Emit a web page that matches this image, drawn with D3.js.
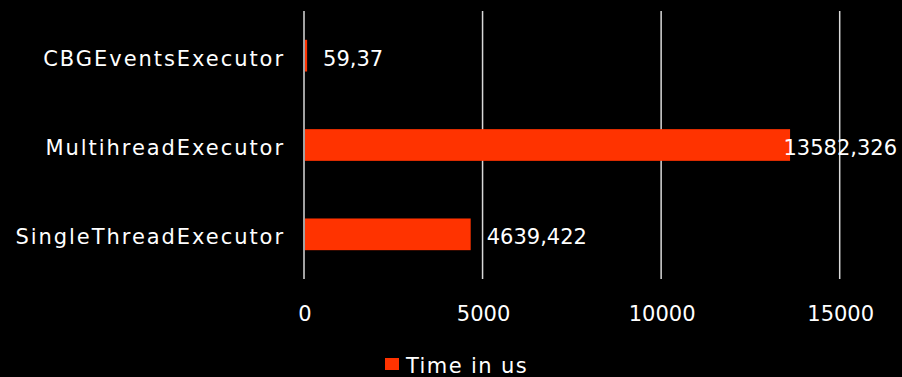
<!DOCTYPE html>
<html><head><meta charset="utf-8">
<script src="https://cdn.jsdelivr.net/npm/d3@7"></script>
<style>
html,body{margin:0;padding:0;background:#000;}
svg{display:block;}
text{font-family:"DejaVu Sans",sans-serif;fill:#fff;}
</style></head>
<body>
<svg id="c" width="902" height="377"></svg>
<script>
const categories = ["CBGEventsExecutor", "MultihreadExecutor", "SingleThreadExecutor"];
const values = [59.37, 13582.326, 4639.422];
const seriesName = "Time in us";
const xTicks = [0, 5000, 10000, 15000];

const W = 902, H = 377;
const m = {left: 304, right: 62, top: 11, bottom: 98};
const svg = d3.select("#c");
svg.append("rect").attr("width", W).attr("height", H).attr("fill", "#000");

const x = d3.scaleLinear().domain([0, 15000]).range([m.left, m.left + 15000 * 0.035713]);
const y = d3.scaleBand().domain(categories).range([m.top, H - m.bottom]).paddingInner(0.645).paddingOuter(0.3225);

const color = "#FF3300";
const fs = 21;
const loc = d3.formatLocale({decimal: ",", thousands: "", grouping: [3], currency: ["", ""]});
const fmtVal = loc.format("~f");

// gridlines
svg.append("g").selectAll("line").data(xTicks).join("line")
  .attr("x1", d => x(d)).attr("x2", d => x(d))
  .attr("y1", m.top).attr("y2", H - m.bottom)
  .attr("stroke", "#D9D9D9").attr("stroke-width", 1.5);

// bars
svg.append("g").selectAll("rect").data(values).join("rect")
  .attr("x", x(0) + 1)
  .attr("y", (d, i) => y(categories[i]))
  .attr("width", d => Math.max(2, x(d) - x(0)))
  .attr("height", y.bandwidth())
  .attr("fill", color);

// category labels
svg.append("g").selectAll("text").data(categories).join("text")
  .attr("x", 285).attr("y", d => y(d) + y.bandwidth() / 2 + 10)
  .attr("text-anchor", "end").attr("letter-spacing", 1.95)
  .attr("font-size", fs).text(d => d);

// value labels
const vl = svg.append("g").selectAll("text").data(values).join("text")
  .attr("y", (d, i) => y(categories[i]) + y.bandwidth() / 2 + 10)
  .attr("font-size", fs)
  .text(d => fmtVal(d));
vl.each(function(d) {
  const t = d3.select(this);
  const w = this.getComputedTextLength();
  let px = Math.max(x(d), x(0) + 2) + 17;
  if (px + w > 897) px = 897 - w;
  t.attr("x", px);
});

// x tick labels
svg.append("g").selectAll("text").data(xTicks).join("text")
  .attr("x", d => x(d) + 1).attr("y", 321)
  .attr("text-anchor", "middle").attr("font-size", fs)
  .text(d => d3.format("d")(d));

// legend
const lg = svg.append("g");
lg.append("rect").attr("x", 385).attr("y", 358).attr("width", 14).attr("height", 12).attr("fill", color);
lg.append("text").attr("x", 406).attr("y", 372.5).attr("font-size", fs).attr("letter-spacing", 1.4).text(seriesName);
</script>
</body></html>
